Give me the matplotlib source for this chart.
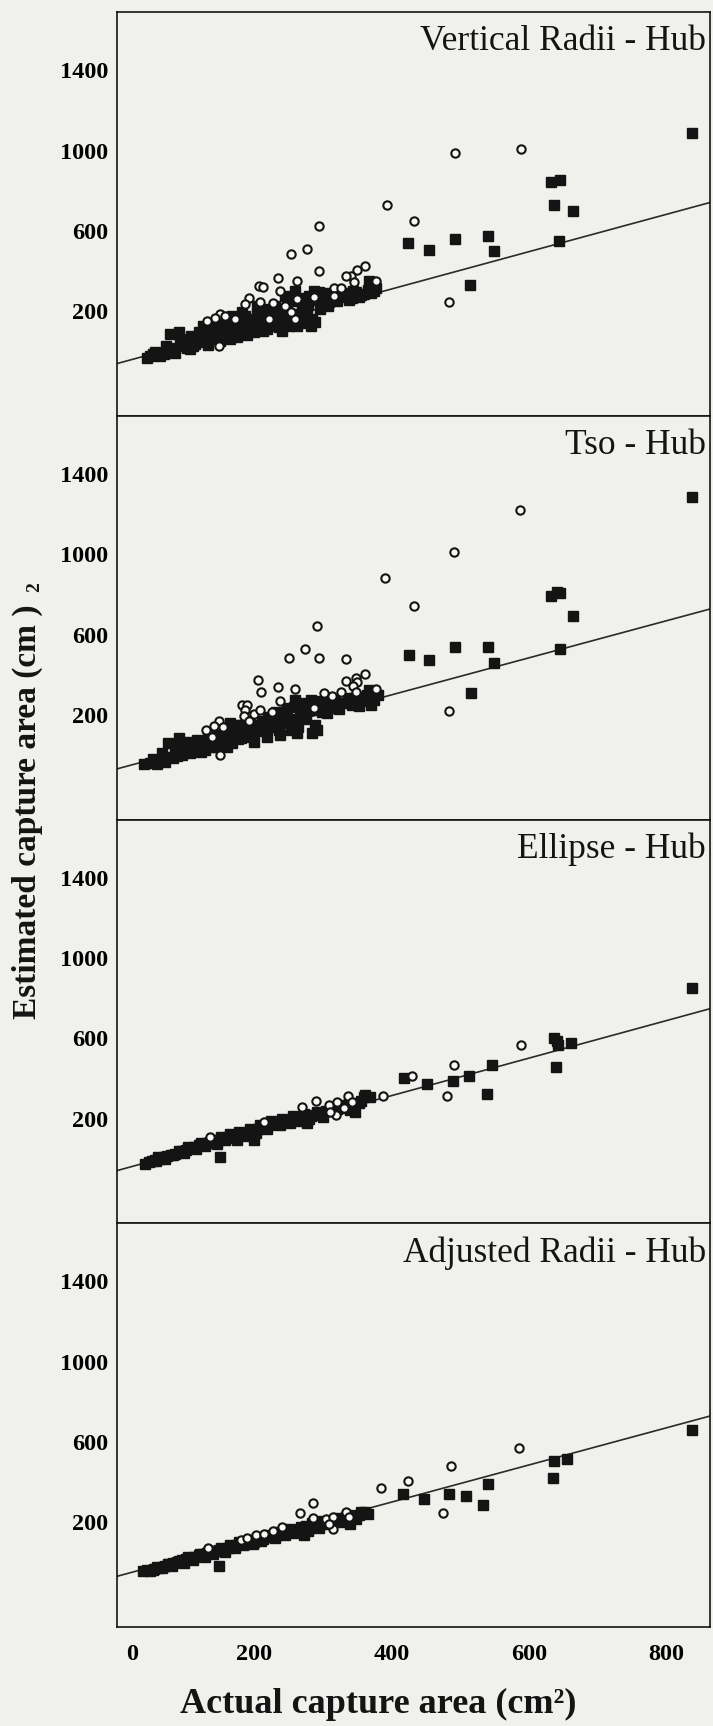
import matplotlib
matplotlib.use('Agg')
import matplotlib.pyplot as plt
from matplotlib.transforms import ScaledTranslation

plt.rcParams['font.family'] = ['Liberation Serif', 'DejaVu Serif']

titles = ['Vertical Radii - Hub', 'Tso - Hub', 'Ellipse - Hub', 'Adjusted Radii - Hub']
x_ticks = [0, 200, 400, 600, 800]
y_ticks = [200, 600, 1000, 1400]

# Vertical Radii - Hub
vr_sq_x = [53, 63, 75, 85, 77, 90, 94, 106, 111, 121, 128, 136, 141, 150, 160, 165, 172, 175, 182, 189,
           194, 199, 204, 214, 219, 223, 228, 233, 243, 245, 250, 260, 262, 270, 277, 280, 282, 289, 287, 294,
           304, 309, 326, 348, 353, 360, 367, 374, 253, 204, 182, 168, 126, 146, 219, 236, 106, 158,
           43, 48, 68, 80, 98, 116, 131, 155, 170, 185, 196, 208, 216, 226, 238, 248, 256, 266, 274, 298,
           316, 336, 343, 365,
           55, 62, 72, 84, 92, 102, 108, 114, 120, 126, 133, 138, 144, 150, 156, 162, 168, 175, 178, 186,
           190, 196, 201, 206, 212, 218, 224, 230, 236, 240, 246, 252, 258, 264, 268, 272, 278, 284, 290, 296,
           302, 308, 312, 320, 330, 338, 344, 356, 370, 378,
           424, 454, 492, 540, 549, 515, 644, 633, 645, 637, 665, 838]
vr_sq_y = [-13, -5, 12, 20, 87, 95, 28, 62, 28, 70, 45, 95, 62, 78, 112, 62, 95, 162, 128, 103,
           153, 95, 187, 162, 212, 128, 195, 145, 170, 278, 128, 303, 128, 228, 195, 278, 128, 145, 303, 295,
           270, 245, 270, 295, 270, 287, 353, 303, 262, 228, 195, 178, 128, 120, 112, 120, 12, 162,
           -30, -22, -10, 5, 45, 55, 85, 100, 130, 150, 120, 150, 190, 170, 200, 220, 175, 250, 245, 250,
           265, 280, 265, 305,
           0, -20, 25, -5, 50, 20, 75, 35, 95, 60, 30, 110, 85, 50, 135, 90, 145, 70, 115, 175,
           80, 160, 130, 205, 100, 180, 150, 225, 170, 100, 205, 150, 250, 185, 140, 265, 230, 160, 255, 210,
           290, 225, 275, 250, 290, 255, 300, 280, 290, 315,
           542, 503, 562, 573, 502, 332, 548, 843, 855, 728, 698, 1087]
vr_ci_x = [393, 295, 253, 277, 295, 235, 207, 213, 262, 237, 362, 350, 341, 333, 345, 316, 327, 377, 192, 187,
           209, 228, 245, 262, 150, 143, 158, 131, 172, 221, 260, 148, 287, 316, 253,
           493, 589, 433, 483]
vr_ci_y = [728, 625, 487, 508, 403, 365, 328, 320, 350, 300, 428, 408, 378, 378, 345, 315, 315, 353, 265, 237,
           245, 242, 225, 262, 187, 165, 175, 150, 162, 162, 162, 25, 270, 278, 195,
           990, 1007, 650, 245]
vr_fit_x = [0, 864]
vr_fit_y = [-60, 742]

# Tso - Hub
tso_sq_x = [48, 58, 70, 75, 90, 82, 94, 106, 104, 119, 128, 136, 146, 158, 168, 172, 180, 189, 197, 204,
            211, 219, 223, 231, 236, 243, 248, 253, 260, 262, 267, 272, 282, 284, 292, 289, 301, 306, 321, 331,
            345, 353, 360, 367, 374, 165, 175,
            40, 64, 88, 112, 124, 140, 152, 162, 185, 200, 215, 228, 256, 276, 296, 316, 338,
            52, 60, 66, 78, 84, 96, 100, 110, 116, 122, 132, 138, 144, 150, 156, 160, 170, 176, 182, 188,
            194, 200, 206, 214, 220, 226, 232, 238, 246, 252, 258, 264, 270, 276, 282, 288, 294, 298, 304, 312,
            318, 324, 336, 342, 356, 364, 370, 380,
            425, 454, 493, 541, 549, 516, 645, 632, 641, 646, 665, 838]
tso_sq_y = [-37, -43, -32, 60, 88, -15, 2, 10, 68, 43, 27, 60, 43, 77, 60, 110, 85, 127, 93, 135,
            168, 93, 143, 193, 127, 160, 235, 127, 277, 110, 193, 243, 277, 110, 127, 227, 243, 210, 252, 260,
            285, 243, 268, 327, 277, 160, 152,
            -45, -25, -5, 25, 55, 45, 70, 95, 115, 120, 150, 170, 180, 220, 260, 235, 270,
            -20, -30, 10, -10, 30, 20, 50, 40, 75, 15, 85, 40, 100, 60, 120, 40, 140, 80, 150, 100,
            170, 65, 150, 120, 190, 140, 215, 100, 190, 160, 240, 140, 260, 180, 240, 150, 270, 215, 280, 240,
            280, 230, 285, 250, 290, 300, 250, 300,
            500, 472, 540, 538, 460, 308, 527, 795, 815, 808, 693, 1288]
tso_ci_x = [391, 433, 292, 274, 250, 294, 333, 205, 210, 234, 260, 237, 362, 348, 334, 350, 344, 326, 313, 301,
            377, 182, 189, 187, 185, 199, 208, 192, 148, 141, 155, 129, 138, 150, 226, 287, 348,
            587, 491, 483]
tso_ci_y = [880, 743, 643, 527, 482, 482, 477, 375, 313, 338, 330, 268, 402, 385, 368, 365, 343, 313, 293, 310,
            330, 252, 252, 227, 197, 205, 227, 172, 168, 147, 143, 127, 93, 2, 213, 235, 315,
            1222, 1010, 218]
tso_fit_x = [0, 864]
tso_fit_y = [-68, 728]

# Ellipse - Hub
el_sq_x = [41, 51, 63, 73, 85, 94, 106, 119, 131, 141, 155, 168, 175, 185, 197, 199, 211, 221, 231, 238,
           248, 258, 270, 277, 287, 297, 326, 340, 360, 150,
           46, 57, 68, 79, 100, 112, 125, 136, 148, 162, 180, 192, 205, 216, 226, 244, 264, 282, 305, 315,
           333, 347, 352, 362, 369,
           55, 60, 70, 82, 90, 97, 104, 115, 122, 128, 139, 145, 152, 158, 165, 172, 178, 189, 194, 202,
           208, 218, 224, 234, 240, 252, 256, 262, 273, 280, 292, 300, 320, 330, 338, 355,
           418, 452, 489, 513, 539, 547, 639, 636, 641, 643, 662, 838]
el_sq_y = [-23, -12, 2, 13, 27, 38, 52, 68, 80, 85, 102, 115, 93, 127, 143, 93, 160, 168, 185, 168,
           193, 202, 210, 177, 218, 227, 268, 243, 310, 10,
           -15, -8, 8, 18, 45, 60, 72, 85, 95, 108, 120, 135, 150, 160, 175, 185, 200, 215, 240, 255,
           265, 235, 277, 318, 310,
           -5, 10, 0, 22, 40, 30, 60, 50, 78, 62, 95, 75, 110, 92, 125, 105, 135, 115, 150, 130,
           170, 150, 190, 175, 200, 180, 215, 190, 225, 200, 235, 210, 250, 255, 280, 290,
           405, 372, 390, 415, 323, 468, 460, 600, 585, 565, 575, 850]
el_ci_x = [491, 481, 430, 388, 337, 290, 269, 309, 321, 331, 319, 311, 343, 214, 136, 588]
el_ci_y = [468, 313, 415, 315, 315, 288, 257, 268, 285, 252, 218, 235, 285, 185, 110, 565]
el_fit_x = [0, 864]
el_fit_y = [-58, 748]

# Adjusted Radii - Hub
ar_sq_x = [38, 48, 60, 70, 82, 94, 106, 119, 131, 143, 155, 168, 180, 194, 207, 219, 233, 248, 260, 272,
           275, 287, 297, 311, 326, 340, 340, 352, 362, 148,
           43, 54, 65, 76, 88, 100, 112, 125, 137, 149, 161, 174, 187, 200, 213, 226, 240, 254, 266, 281,
           292, 304, 318, 333, 346, 357,
           52, 58, 66, 74, 80, 90, 97, 104, 110, 121, 128, 134, 140, 152, 158, 165, 172, 178, 184, 192,
           198, 204, 210, 222, 230, 236, 245, 250, 258, 268, 278, 284, 294, 300, 308, 322, 330, 336, 348, 355,
           365,
           416, 447, 484, 509, 533, 541, 635, 637, 656, 838]
ar_sq_y = [-43, -40, -27, -15, -2, 12, 23, 37, 48, 57, 68, 85, 98, 98, 115, 128, 140, 157, 165, 140,
           182, 182, 190, 207, 215, 190, 215, 235, 252, -15,
           -35, -30, -20, -8, 5, 18, 30, 42, 52, 62, 75, 88, 95, 105, 120, 130, 148, 160, 170, 175,
           185, 198, 210, 225, 225, 245,
           -35, -20, -28, -5, -18, 10, 0, 30, 15, 45, 30, 60, 45, 72, 55, 90, 75, 105, 90, 115,
           95, 125, 110, 140, 125, 155, 140, 170, 150, 180, 160, 195, 175, 205, 190, 220, 200, 235, 215, 250,
           240,
           343, 315, 340, 332, 285, 390, 420, 507, 515, 660]
ar_ci_x = [486, 424, 384, 475, 285, 266, 285, 304, 315, 333, 338, 315, 309, 240, 227, 202, 180, 132, 190, 214,
           585]
ar_ci_y = [482, 407, 373, 245, 295, 248, 223, 215, 228, 253, 228, 168, 190, 178, 157, 140, 115, 73, 123, 145,
           570]
ar_fit_x = [0, 864]
ar_fit_y = [-68, 730]

panels = [
    (vr_sq_x, vr_sq_y, vr_ci_x, vr_ci_y, vr_fit_x, vr_fit_y),
    (tso_sq_x, tso_sq_y, tso_ci_x, tso_ci_y, tso_fit_x, tso_fit_y),
    (el_sq_x, el_sq_y, el_ci_x, el_ci_y, el_fit_x, el_fit_y),
    (ar_sq_x, ar_sq_y, ar_ci_x, ar_ci_y, ar_fit_x, ar_fit_y),
]

bg = '#f0f0ec'
ink = '#141414'

fig, axes = plt.subplots(4, 1, figsize=(7.13, 17.26), dpi=100, sharex=True)
fig.patch.set_facecolor(bg)
fig.subplots_adjust(left=0.1641, right=0.9958, top=0.993, bottom=0.0574, hspace=0)

for ax, title, (sx, sy, cx, cy, fx, fy) in zip(axes, titles, panels):
    ax.set_facecolor(bg)
    ax.plot(fx, fy, color='#2a2a2a', lw=1.2, zorder=2)
    ax.plot(sx, sy, 's', ms=6.8, color=ink, mec=ink, ls='none', zorder=3)
    ax.plot(cx, cy, 'o', ms=6.0, mfc='#f8f8f4', mec=ink, mew=1.5, ls='none', zorder=4)
    ax.set_xlim(0, 864)
    ax.set_ylim(-320, 1690)
    ax.set_yticks(y_ticks)
    ax.set_yticklabels([str(t) for t in y_ticks], fontsize=17.5, fontweight='bold')
    ax.tick_params(axis='y', length=0, pad=6.5)
    ax.tick_params(axis='x', length=0, pad=12)
    for sp in ax.spines.values():
        sp.set_linewidth(1.2)
        sp.set_color(ink)
    ax.text(0.993, 0.905, title, transform=ax.transAxes, ha='right', va='baseline',
            fontsize=25.5, color=ink)

axb = axes[-1]
axb.set_xticks(x_ticks)
axb.set_xticklabels([str(t) for t in x_ticks], fontsize=17.5, fontweight='bold')
zero = axb.get_xticklabels()[0]
zero.set_transform(zero.get_transform() + ScaledTranslation(0.15, 0, fig.dpi_scale_trans))

fig.text(378 / 713, 1 - 1713 / 1726, 'Actual capture area (cm²)', ha='center', va='baseline',
         fontsize=26, fontweight='bold', color=ink)
fig.text(27 / 713, 1 - 812 / 1726, 'Estimated capture area (cm )', rotation=90, ha='center',
         va='center', fontsize=24, fontweight='bold', color=ink)
fig.text(35 / 713, 1 - 587 / 1726, '2', rotation=90, ha='center', va='center',
         fontsize=14, fontweight='bold', color=ink)

fig.savefig('out.png', dpi=100, facecolor=bg)
